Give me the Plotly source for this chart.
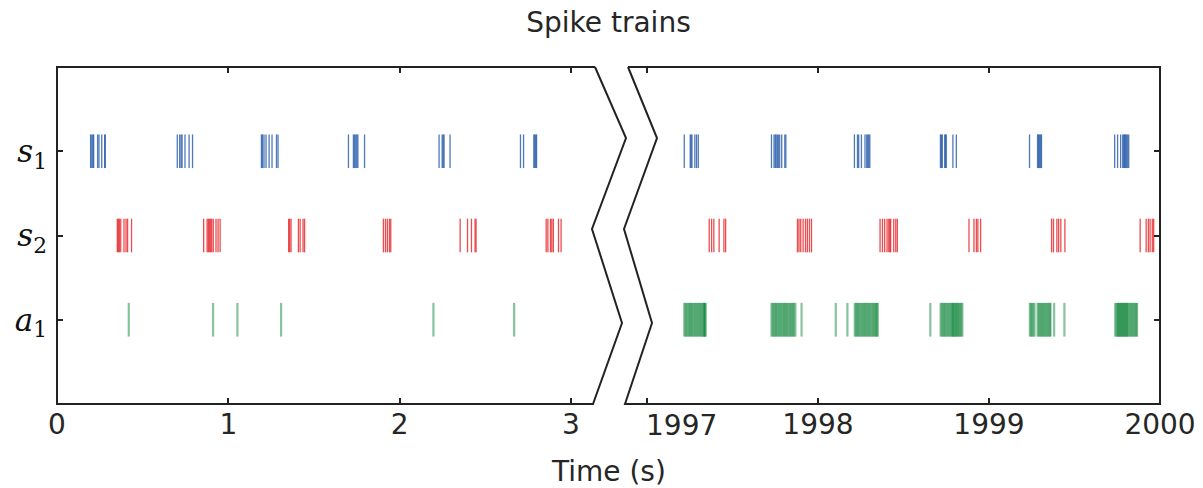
import plotly.graph_objects as go

# ---------------- data (spike times, seconds) ----------------
rows = ["s1", "s2", "a1"]
row_positions = [2, 1, 0]
row_ticktext = ["<i>s</i><sub>1</sub>", "<i>s</i><sub>2</sub>", "<i>a</i><sub>1</sub>"]

left_ticks = [0, 1, 2, 3]
right_ticks = [1997, 1998, 1999, 2000]
right_ticktext = ["", "1998", "1999", "2000"]

s1_left = [0.196, 0.203, 0.209, 0.214, 0.237, 0.245, 0.261, 0.278, 0.282,
           0.702, 0.716, 0.724, 0.730, 0.747, 0.771, 0.791,
           1.193, 1.199, 1.208, 1.220, 1.238, 1.255, 1.281, 1.290,
           1.701, 1.730, 1.737, 1.744, 1.750, 1.756, 1.795,
           2.230, 2.248, 2.254, 2.259, 2.294,
           2.705, 2.723, 2.783, 2.788, 2.794, 2.799]
s2_left = [0.352, 0.358, 0.364, 0.372, 0.391, 0.403, 0.412, 0.435,
           0.856, 0.876, 0.883, 0.889, 0.896, 0.903, 0.912, 0.928, 0.940, 0.952,
           1.352, 1.358, 1.366, 1.409, 1.419, 1.436, 1.445,
           1.905, 1.917, 1.928, 1.940, 1.948,
           2.353, 2.396, 2.419, 2.440, 2.446,
           2.855, 2.865, 2.880, 2.888, 2.897, 2.927, 2.942]
a1_left = [0.419, 0.911, 1.053, 1.308, 2.197, 2.668]

s1_right = [1997.218, 1997.253, 1997.258, 1997.263, 1997.280, 1997.290, 1997.300,
            1997.728, 1997.743, 1997.750, 1997.755, 1997.762, 1997.768, 1997.776, 1997.788, 1997.806, 1997.812,
            1998.213, 1998.231, 1998.238, 1998.254, 1998.275, 1998.285, 1998.291, 1998.297, 1998.303,
            1998.716, 1998.722, 1998.727, 1998.741, 1998.746, 1998.750, 1998.789, 1998.809,
            1999.237, 1999.284, 1999.290, 1999.295, 1999.302, 1999.307,
            1999.735, 1999.752, 1999.770, 1999.782, 1999.788, 1999.792, 1999.798, 1999.803, 1999.810, 1999.817]
s2_right = [1997.364, 1997.378, 1997.391, 1997.422, 1997.450, 1997.460,
            1997.880, 1997.889, 1997.899, 1997.913, 1997.927, 1997.938, 1997.950, 1997.962,
            1998.363, 1998.377, 1998.390, 1998.404, 1998.414, 1998.420, 1998.425, 1998.443, 1998.455, 1998.464,
            1998.883, 1998.912, 1998.926, 1998.935, 1998.951,
            1999.366, 1999.377, 1999.397, 1999.407, 1999.420, 1999.444,
            1999.884, 1999.919, 1999.932, 1999.942, 1999.955, 1999.963]
a1_right = [1997.218, 1997.225, 1997.231, 1997.238, 1997.245, 1997.251, 1997.258, 1997.264, 1997.271,
            1997.278, 1997.284, 1997.291, 1997.297, 1997.304, 1997.311, 1997.317, 1997.324, 1997.330,
            1997.333, 1997.337, 1997.340, 1997.343,
            1997.728, 1997.735, 1997.741, 1997.748, 1997.754, 1997.761, 1997.768, 1997.774, 1997.781,
            1997.787, 1997.794, 1997.801, 1997.807, 1997.814, 1997.820, 1997.827, 1997.834, 1997.840,
            1997.847, 1997.853, 1997.860, 1997.868,
            1997.904, 1998.104, 1998.172,
            1998.215, 1998.222, 1998.228, 1998.235, 1998.241, 1998.248, 1998.255, 1998.261, 1998.268,
            1998.274, 1998.281, 1998.288, 1998.294, 1998.301, 1998.307, 1998.314, 1998.321, 1998.327,
            1998.334, 1998.340, 1998.344, 1998.350,
            1998.657,
            1998.717, 1998.724, 1998.730, 1998.737, 1998.743, 1998.750, 1998.757, 1998.763, 1998.770,
            1998.776, 1998.783, 1998.787, 1998.790, 1998.796, 1998.800, 1998.806, 1998.810, 1998.816,
            1998.820, 1998.826, 1998.832, 1998.838, 1998.844,
            1999.239, 1999.245, 1999.252, 1999.259, 1999.266,
            1999.284, 1999.291, 1999.297, 1999.304, 1999.310, 1999.317, 1999.323, 1999.330, 1999.336,
            1999.343, 1999.349, 1999.356, 1999.360,
            1999.381, 1999.441,
            1999.738, 1999.745, 1999.751, 1999.755, 1999.758, 1999.764, 1999.768, 1999.771, 1999.777,
            1999.781, 1999.784, 1999.790, 1999.794, 1999.797, 1999.803, 1999.807, 1999.810, 1999.816,
            1999.823, 1999.829, 1999.836, 1999.842, 1999.849, 1999.855, 1999.861, 1999.866]

colors = {"s1": "rgba(35,88,168,0.8)", "s2": "rgba(228,32,36,0.8)", "a1": "rgba(20,135,62,0.5)"}
widths = {"s1": 1.3, "s2": 1.3, "a1": 2.2}

# ---------------- figure ----------------
W, H = 1203, 488
ML, MR, MT, MB = 57, 43, 67, 84
PW, PH = W - ML - MR, H - MT - MB

fig = go.Figure()
HALF = 0.2


def add_spikes(times, row, color, width, xa, ya):
    for t in times:
        fig.add_trace(go.Scatter(x=[t, t], y=[row - HALF, row + HALF], mode="lines",
                                 line=dict(color=color, width=width),
                                 xaxis=xa, yaxis=ya, hoverinfo="skip", showlegend=False))


left_data = {"s1": s1_left, "s2": s2_left, "a1": a1_left}
right_data = {"s1": s1_right, "s2": s2_right, "a1": a1_right}
for name, pos in zip(rows, row_positions):
    add_spikes(left_data[name], pos, colors[name], widths[name], "x", "y")
    add_spikes(right_data[name], pos, colors[name], widths[name], "x2", "y2")


def px2paper(px, py):
    return (px - ML) / PW, (H - MB - py) / PH


def path_from(points):
    pts = [px2paper(*p) for p in points]
    return "M " + " L ".join(f"{x:.5f},{y:.5f}" for x, y in pts)


frame_color = "#222222"
left_frame = [(595, 67), (57, 67), (57, 404), (593, 404), (622, 323), (592, 229), (626, 138), (595, 67)]
right_frame = [(628, 67), (1160, 67), (1160, 404), (625, 404), (652, 323), (624, 229), (657, 138), (628, 67)]
for fr in (left_frame, right_frame):
    fig.add_shape(type="path", path=path_from(fr), xref="paper", yref="paper",
                  line=dict(color=frame_color, width=2), fillcolor="rgba(0,0,0,0)", layer="above")

tick_font = dict(family="DejaVu Sans", size=28, color="#262626")
left_dom_end = (595 - ML) / PW
right_dom_start = (628 - ML) / PW
right_start = 1997 - (647 - 628) / 171.2

common_x = dict(ticks="inside", ticklen=6, tickwidth=1.5, tickcolor=frame_color,
                showline=False, mirror="ticks", showgrid=False, zeroline=False,
                tickfont=tick_font, ticklabelstandoff=1, automargin=False)

fig.update_layout(
    width=W, height=H,
    margin=dict(l=ML, r=MR, t=MT, b=MB, pad=0, autoexpand=False),
    paper_bgcolor="white", plot_bgcolor="white",
    showlegend=False,
    title=dict(text="Spike trains", x=0.5, xref="paper", xanchor="center",
               y=1 - 22 / H, yref="container", yanchor="middle",
               font=dict(family="DejaVu Sans", size=28, color="#262626")),
    xaxis=dict(domain=[0, left_dom_end], range=[0, 3.14], anchor="y",
               tickvals=left_ticks, **common_x),
    xaxis2=dict(domain=[right_dom_start, 1], range=[right_start, 2000], anchor="y2",
                tickvals=right_ticks, ticktext=right_ticktext, **common_x),
    yaxis=dict(domain=[0, 1], range=[-1, 3], anchor="x", ticks="inside", ticklen=6,
               tickwidth=1.5, tickcolor=frame_color, showline=False, showgrid=False,
               zeroline=False, tickvals=row_positions, ticktext=row_ticktext,
               tickfont=dict(family="DejaVu Serif", size=31, color="#111111"),
               ticklabelstandoff=9, automargin=False),
    yaxis2=dict(domain=[0, 1], range=[-1, 3], anchor="x2", side="right", matches="y",
                ticks="inside", ticklen=6, tickwidth=1.5, tickcolor=frame_color,
                showline=False, showgrid=False, zeroline=False, tickvals=row_positions,
                showticklabels=False, automargin=False),
)

fig.add_annotation(text="1997", x=1997, xref="x2", y=0, yref="paper", xanchor="left",
                   yanchor="top", yshift=-3, xshift=-3, showarrow=False, font=tick_font)
fig.add_annotation(text="Time (s)", x=0.5, xref="paper", y=(H - MB - 471) / PH, yref="paper",
                   xanchor="center", yanchor="middle", showarrow=False,
                   font=dict(family="DejaVu Sans", size=28, color="#262626"))

fig.write_html("out.html")
